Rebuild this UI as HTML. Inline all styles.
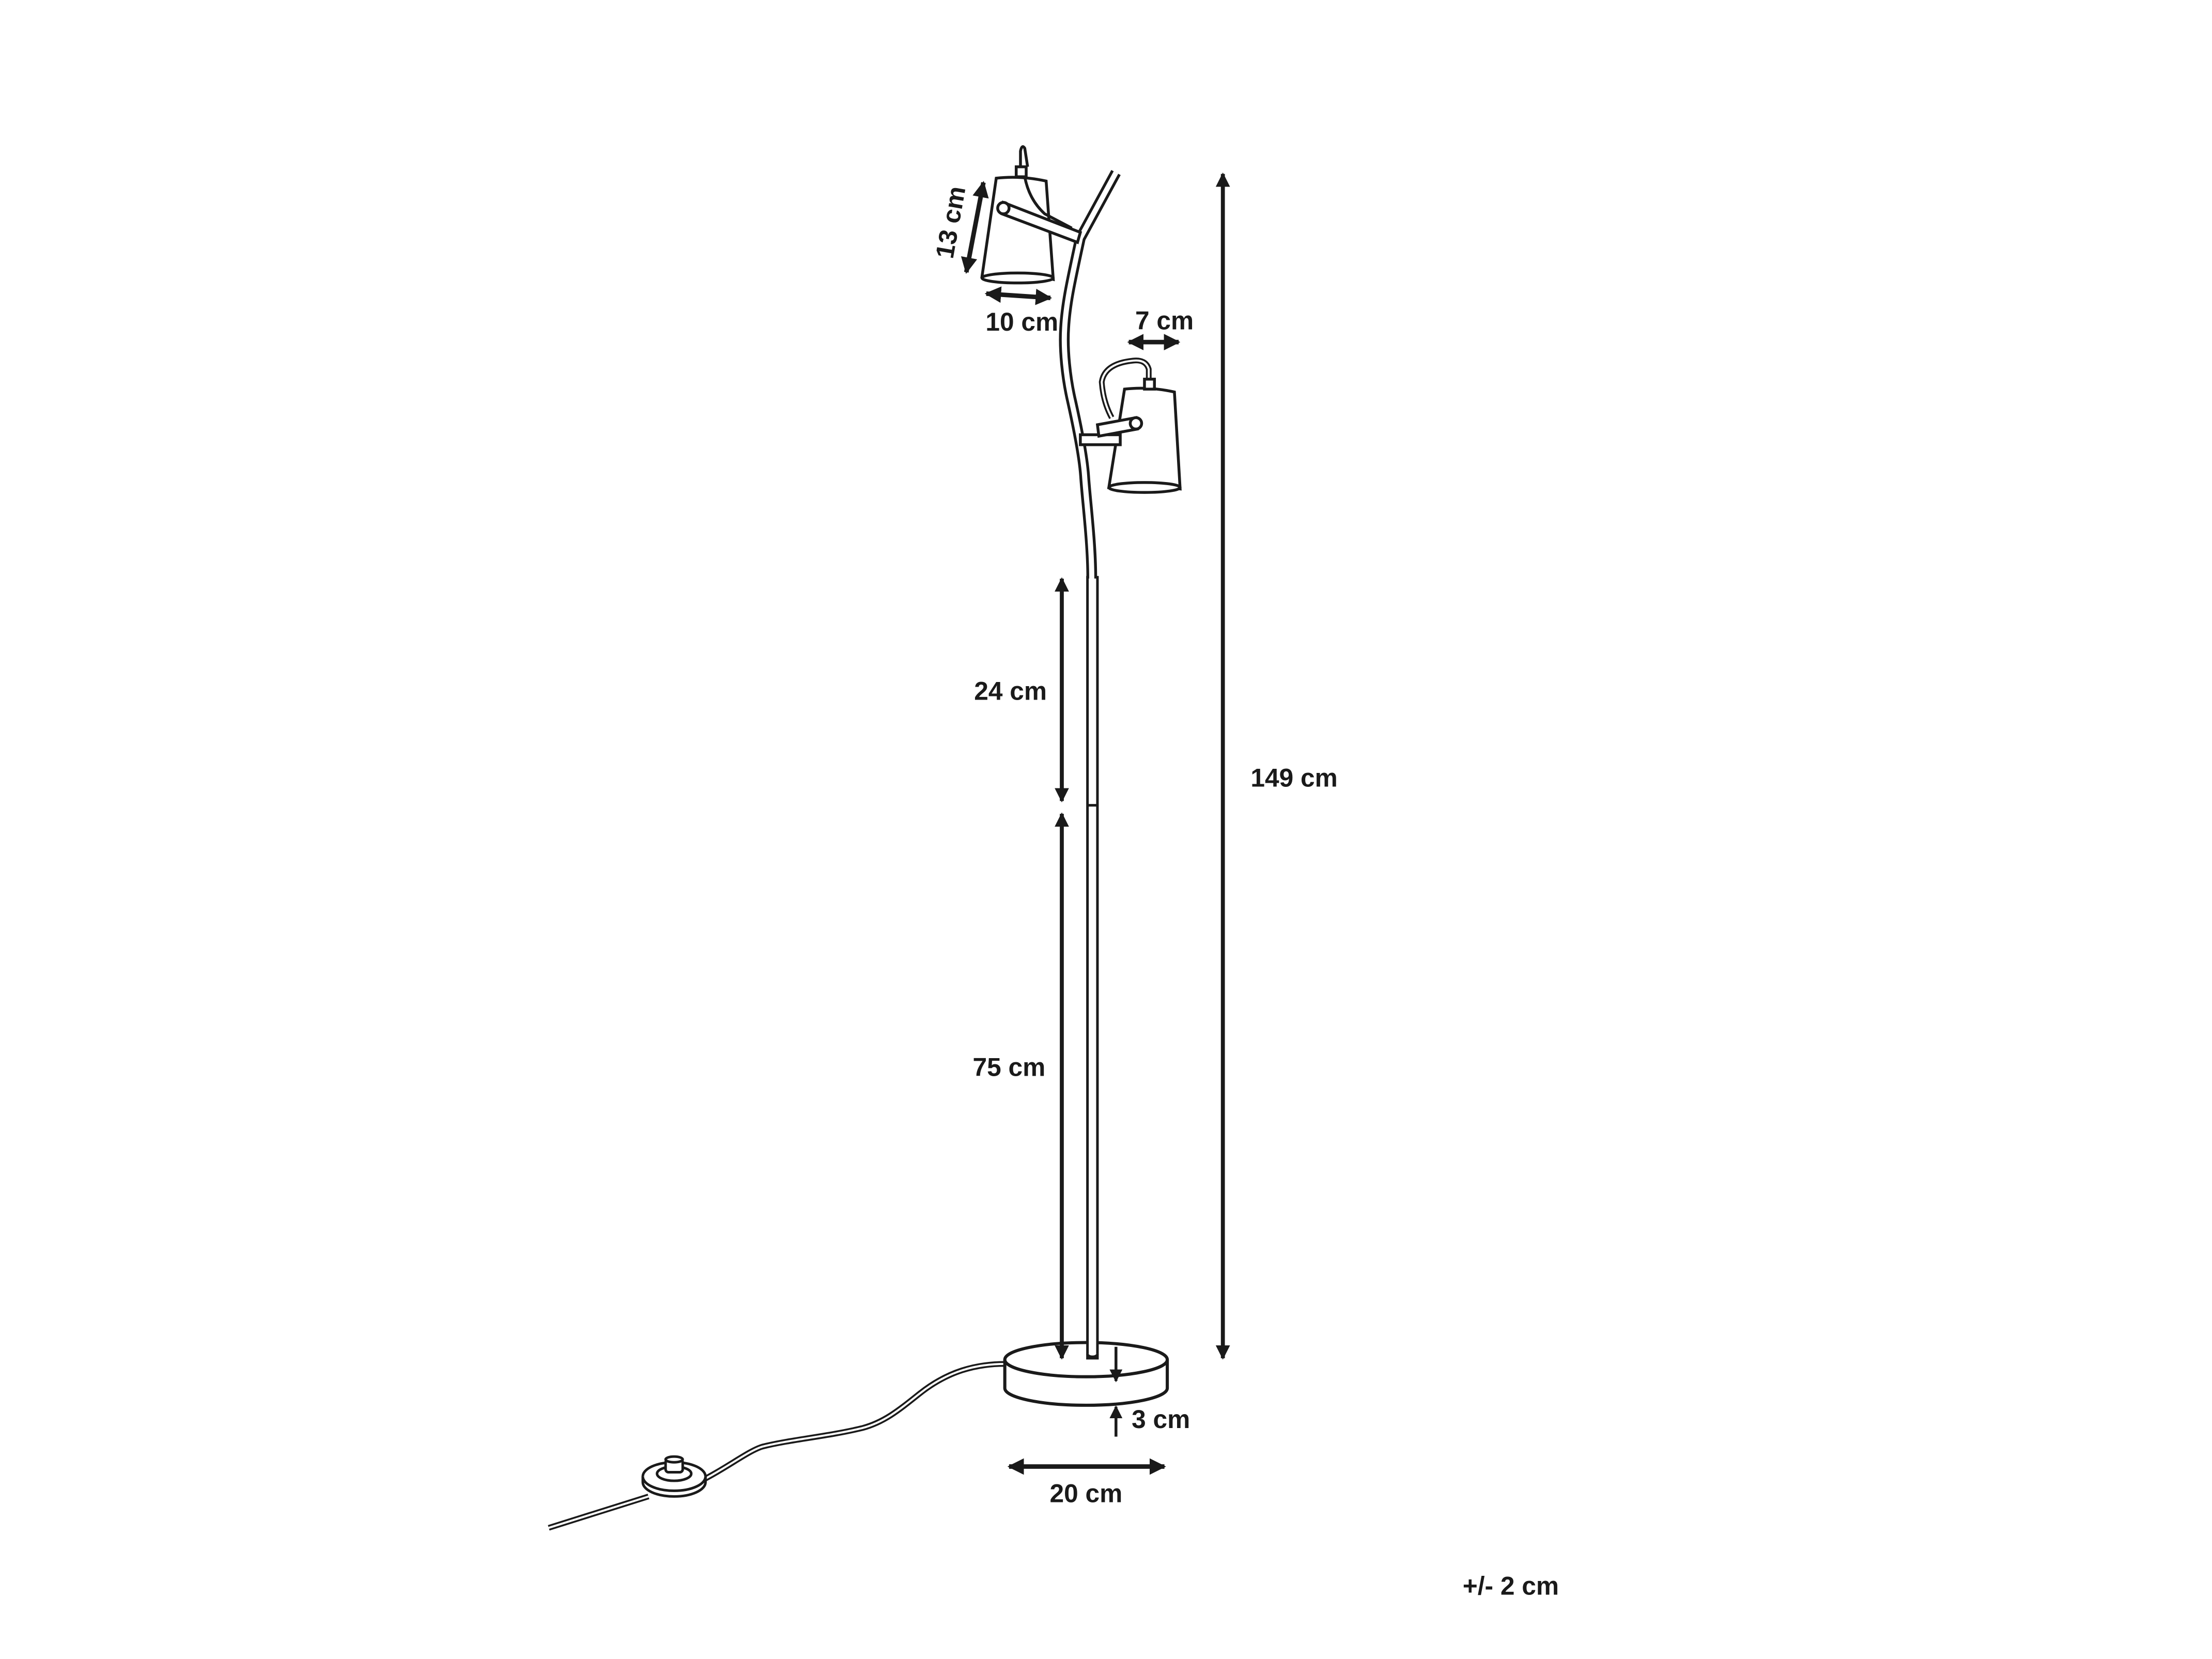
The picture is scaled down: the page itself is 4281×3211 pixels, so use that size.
<!DOCTYPE html>
<html><head><meta charset="utf-8"><style>
html,body{margin:0;padding:0;background:#fff;}
svg{display:block}
text{font-family:"Liberation Sans",sans-serif;font-weight:bold;fill:#1a1a1a;}
</style></head><body>
<svg width="4281" height="3211" viewBox="0 0 1552 1164" xmlns="http://www.w3.org/2000/svg">
<defs>
<marker id="ah" viewBox="0 0 10 10" refX="9" refY="5" markerWidth="3.6" markerHeight="3.6" orient="auto-start-reverse"><path d="M0,0 L10,5 L0,10 z" fill="#1a1a1a"/></marker>
<marker id="ah2" viewBox="0 0 10 10" refX="9" refY="5" markerWidth="4.5" markerHeight="4.5" orient="auto-start-reverse"><path d="M0,0 L10,5 L0,10 z" fill="#1a1a1a"/></marker>
</defs>
<rect width="1552" height="1164" fill="#fff"/>
<!-- cord -->
<path d="M705,957 C685,957 665,962 645,978 C630,990 620,998 605,1002 C580,1008 555,1010 535,1015 C525,1018 510,1030 490,1040" stroke="#1a1a1a" stroke-width="4" fill="none"/>
<path d="M705,957 C685,957 665,962 645,978 C630,990 620,998 605,1002 C580,1008 555,1010 535,1015 C525,1018 510,1030 490,1040" stroke="#fff" stroke-width="1.4" fill="none"/>
<path d="M455,1050 C430,1058 410,1064 385,1072" stroke="#1a1a1a" stroke-width="4" fill="none"/>
<path d="M455,1050 C430,1058 410,1064 385,1072" stroke="#fff" stroke-width="1.4" fill="none"/>
<!-- switch -->
<g stroke="#1a1a1a" stroke-width="1.8" fill="#fff">
<path d="M451,1040 A22,10 0 0 0 495,1040 L495,1036 A22,10 0 0 0 451,1036 Z"/>
<path d="M451,1036 A22,10 0 0 0 495,1036"/>
<ellipse cx="473" cy="1034" rx="12" ry="5"/>
<rect x="467" y="1024" width="12" height="9" rx="2"/>
<ellipse cx="473" cy="1024" rx="6" ry="2"/>
</g>
<!-- base -->
<g stroke="#1a1a1a" stroke-width="2.2" fill="#fff">
<path d="M705,954 L705,974 A57,12 0 0 0 819,974 L819,954"/>
<ellipse cx="762" cy="954" rx="57" ry="12"/>
</g>
<!-- pole -->
<g stroke="#1a1a1a" stroke-width="1.8" fill="#fff">
<rect x="763" y="405" width="7" height="548"/>
<line x1="763" y1="565" x2="770" y2="565"/>
<path d="M763,950 A3.5,2 0 0 0 770,950"/>
</g>
<!-- stem -->
<path d="M766,405 C766,380 762,350 761,334 C760,320 756,300 752,282 C748,265 746,245 747,230 C748,212 752,195 758,167 L783,121" stroke="#1a1a1a" stroke-width="7.5" fill="none" stroke-linejoin="round"/>
<path d="M766,406 C766,380 762,350 761,334 C760,320 756,300 752,282 C748,265 746,245 747,230 C748,212 752,195 758,167 L783,121" stroke="#fff" stroke-width="3.6" fill="none" stroke-linejoin="round"/>
<!-- upper lamp -->
<g stroke="#1a1a1a" stroke-width="2" fill="#fff">
<path d="M699,125 Q716,123 734,127 L739,196 Q714,190 689,194 Z"/>
<ellipse cx="714" cy="195" rx="25" ry="3.5"/>
<rect x="713" y="117" width="7" height="7"/>
<path d="M716,117 L716,106 Q717,101 719,104 L721,117" fill="none"/>
<path d="M719,124 Q722,140 733,150 L752,160" fill="none"/>
<path d="M704,142 L758,163 L756,170 L703,150 Z"/>
<circle cx="704" cy="146" r="4"/>
</g>
<!-- lower lamp -->
<g stroke="#1a1a1a" stroke-width="2" fill="#fff">
<path d="M806,266 L806,259 Q804,252 795,253 Q775,255 773,268 Q774,282 780,293" fill="none" stroke-width="4"/>
<path d="M806,266 L806,259 Q804,252 795,253 Q775,255 773,268 Q774,282 780,293" fill="none" stroke="#fff" stroke-width="1.4"/>
<path d="M789,273 Q806,271 824,275 L828,343 Q803,339 778,342 Z"/>
<ellipse cx="803" cy="342" rx="25" ry="3.5"/>
<rect x="803" y="266" width="7" height="7"/>
<rect x="758" y="305" width="28" height="7"/>
<path d="M770,298 L797,293 L798,301 L771,306 Z"/>
<circle cx="797" cy="297" r="4"/>
</g>
<!-- dimension arrows -->
<g stroke="#1a1a1a" fill="none" stroke-linecap="butt">
<line x1="858" y1="122" x2="858" y2="953" stroke-width="2.8" marker-start="url(#ah)" marker-end="url(#ah)"/>
<line x1="745" y1="406" x2="745" y2="562" stroke-width="2.8" marker-start="url(#ah)" marker-end="url(#ah)"/>
<line x1="745" y1="571" x2="745" y2="953" stroke-width="2.8" marker-start="url(#ah)" marker-end="url(#ah)"/>
<line x1="690" y1="128" x2="678" y2="191" stroke-width="3.2" marker-start="url(#ah)" marker-end="url(#ah)"/>
<line x1="692" y1="206" x2="737" y2="209" stroke-width="3.2" marker-start="url(#ah)" marker-end="url(#ah)"/>
<line x1="792" y1="240" x2="827" y2="240" stroke-width="3.2" marker-start="url(#ah)" marker-end="url(#ah)"/>
<line x1="708" y1="1029" x2="817" y2="1029" stroke-width="3.2" marker-start="url(#ah)" marker-end="url(#ah)"/>
<line x1="783" y1="945" x2="783" y2="969" stroke-width="2" marker-end="url(#ah2)"/>
<line x1="783" y1="1008" x2="783" y2="987" stroke-width="2" marker-end="url(#ah2)"/>
</g>
<!-- labels -->
<text x="908" y="552" font-size="18" text-anchor="middle">149 cm</text>
<text x="709" y="491" font-size="18" text-anchor="middle">24 cm</text>
<text x="708" y="755" font-size="18" text-anchor="middle">75 cm</text>
<text x="717" y="232" font-size="18" text-anchor="middle">10 cm</text>
<text x="817" y="231" font-size="18" text-anchor="middle">7 cm</text>
<text x="0" y="0" font-size="18" text-anchor="middle" transform="translate(673,157) rotate(-80)">13 cm</text>
<text x="794" y="1002" font-size="18">3 cm</text>
<text x="762" y="1054" font-size="18" text-anchor="middle">20 cm</text>
<text x="1060" y="1119" font-size="18" text-anchor="middle">+/- 2 cm</text>
</svg>
</body></html>
